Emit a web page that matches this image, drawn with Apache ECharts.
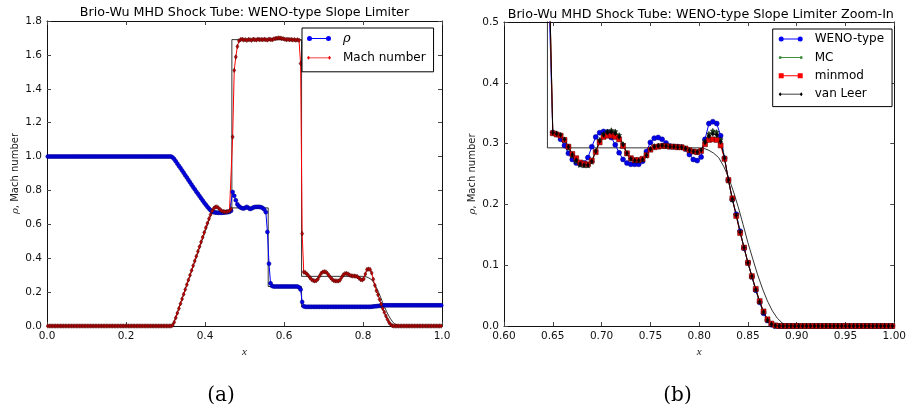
<!DOCTYPE html>
<html>
<head>
<meta charset="utf-8">
<script src="https://cdn.jsdelivr.net/npm/echarts@6/dist/echarts.min.js"></script>
<style>
  html, body { margin: 0; padding: 0; background: #fff; }
  #chart { width: 909px; height: 409px; }
</style>
</head>
<body>
<div id="chart"></div>
<script>
// Brio-Wu MHD shock tube, 250-cell uniform mesh on [0, 1]; one value per cell centre.
const CELLS = 250;

// Density with the WENO-type slope limiter
const density = [
  1.0,1.0,1.0,1.0,1.0,1.0,1.0,1.0,1.0,1.0,
  1.0,1.0,1.0,1.0,1.0,1.0,1.0,1.0,1.0,1.0,
  1.0,1.0,1.0,1.0,1.0,1.0,1.0,1.0,1.0,1.0,
  1.0,1.0,1.0,1.0,1.0,1.0,1.0,1.0,1.0,1.0,
  1.0,1.0,1.0,1.0,1.0,1.0,1.0,1.0,1.0,1.0,
  1.0,1.0,1.0,1.0,1.0,1.0,1.0,1.0,1.0,1.0,
  1.0,1.0,1.0,1.0,1.0,1.0,1.0,1.0,1.0,1.0,
  1.0,1.0,1.0,1.0,1.0,1.0,1.0,1.0,1.0,0.995,
  0.985,0.972,0.958,0.945,0.932,0.918,0.904,0.890,0.876,0.862,
  0.848,0.834,0.820,0.807,0.793,0.780,0.767,0.754,0.741,0.728,
  0.716,0.704,0.693,0.683,0.676,0.672,0.670,0.669,0.668,0.668,
  0.668,0.669,0.670,0.671,0.672,0.674,0.680,0.791,0.768,0.742,
  0.718,0.706,0.699,0.695,0.693,0.698,0.703,0.697,0.691,0.694,
  0.699,0.702,0.703,0.703,0.703,0.701,0.696,0.688,0.672,0.555,
  0.368,0.252,0.236,0.233,0.233,0.233,0.233,0.233,0.233,0.233,
  0.233,0.233,0.233,0.233,0.233,0.233,0.233,0.233,0.233,0.228,
  0.215,0.142,0.116,0.113,0.113,0.113,0.113,0.113,0.113,0.113,
  0.113,0.113,0.113,0.113,0.113,0.113,0.113,0.113,0.113,0.113,
  0.113,0.113,0.113,0.113,0.113,0.113,0.113,0.113,0.113,0.113,
  0.113,0.113,0.113,0.113,0.113,0.113,0.113,0.113,0.113,0.113,
  0.113,0.113,0.113,0.113,0.113,0.114,0.115,0.116,0.117,0.118,
  0.119,0.120,0.121,0.122,0.122,0.122,0.122,0.122,0.122,0.122,
  0.122,0.122,0.122,0.122,0.122,0.122,0.122,0.122,0.122,0.122,
  0.122,0.122,0.122,0.122,0.122,0.122,0.122,0.122,0.122,0.122,
  0.122,0.122,0.122,0.122,0.122,0.122,0.122,0.122,0.122,0.122
];

// Mach number with the WENO-type slope limiter
const machWeno = [
  0,0,0,0,0,0,0,0,0,0,
  0,0,0,0,0,0,0,0,0,0,
  0,0,0,0,0,0,0,0,0,0,
  0,0,0,0,0,0,0,0,0,0,
  0,0,0,0,0,0,0,0,0,0,
  0,0,0,0,0,0,0,0,0,0,
  0,0,0,0,0,0,0,0,0,0,
  0,0,0,0,0,0,0,0,0,0.005,
  0.022,0.048,0.076,0.104,0.132,0.160,0.188,0.216,0.244,0.272,
  0.300,0.328,0.356,0.384,0.412,0.440,0.468,0.496,0.524,0.552,
  0.580,0.607,0.633,0.657,0.679,0.694,0.702,0.703,0.697,0.688,
  0.680,0.676,0.674,0.674,0.676,0.680,0.690,1.116,1.509,1.588,
  1.650,1.683,1.690,1.692,1.688,1.690,1.686,1.691,1.689,1.687,
  1.692,1.690,1.688,1.693,1.690,1.691,1.689,1.692,1.690,1.688,
  1.693,1.691,1.689,1.694,1.696,1.698,1.700,1.699,1.697,1.695,
  1.693,1.690,1.692,1.689,1.691,1.688,1.690,1.687,1.689,1.686,
  1.549,0.545,0.318,0.315,0.307,0.297,0.284,0.274,0.268,0.266,
  0.268,0.277,0.295,0.311,0.318,0.320,0.319,0.310,0.298,0.285,
  0.274,0.268,0.266,0.266,0.266,0.271,0.287,0.302,0.309,0.310,
  0.307,0.301,0.296,0.295,0.295,0.294,0.291,0.282,0.274,0.272,
  0.278,0.307,0.333,0.336,0.333,0.313,0.276,0.240,0.208,0.184,
  0.156,0.128,0.104,0.081,0.059,0.039,0.021,0.009,0.002,0,
  0,0,0,0,0,0,0,0,0,0,
  0,0,0,0,0,0,0,0,0,0,
  0,0,0,0,0,0,0,0,0,0
];

// Zoom-in panel: cells from index ZOOM_FIRST (x = 0.642) to the right boundary
const ZOOM_FIRST = 160;

const machMC = [
  1.600,0.600,0.319,0.317,0.314,0.306,0.293,0.280,0.271,0.265,
  0.264,0.264,0.270,0.288,0.306,0.316,0.320,0.322,0.320,0.314,
  0.299,0.284,0.275,0.272,0.272,0.274,0.280,0.291,0.296,0.297,
  0.297,0.296,0.295,0.295,0.295,0.294,0.292,0.289,0.287,0.286,
  0.289,0.304,0.316,0.321,0.319,0.307,0.276,0.239,0.208,0.182,
  0.155,0.129,0.104,0.081,0.060,0.040,0.023,0.010,0.003,0,
  0,0,0,0,0,0,0,0,0,0,
  0,0,0,0,0,0,0,0,0,0,
  0,0,0,0,0,0,0,0,0,0
];

const machMinmod = [
  1.600,0.600,0.317,0.315,0.313,0.306,0.295,0.283,0.276,0.269,
  0.267,0.266,0.272,0.286,0.302,0.311,0.313,0.313,0.311,0.307,
  0.296,0.284,0.276,0.273,0.273,0.275,0.281,0.290,0.294,0.295,
  0.296,0.296,0.295,0.295,0.294,0.294,0.292,0.289,0.287,0.286,
  0.288,0.299,0.306,0.307,0.306,0.297,0.275,0.240,0.210,0.181,
  0.153,0.129,0.104,0.082,0.061,0.041,0.024,0.011,0.004,0.001,
  0,0,0,0,0,0,0,0,0,0,
  0,0,0,0,0,0,0,0,0,0,
  0,0,0,0,0,0,0,0,0,0
];

const machVanLeer = [
  1.600,0.600,0.318,0.316,0.314,0.307,0.295,0.282,0.273,0.267,
  0.265,0.265,0.271,0.287,0.304,0.314,0.318,0.319,0.317,0.311,
  0.298,0.284,0.275,0.272,0.272,0.274,0.281,0.291,0.295,0.296,
  0.297,0.296,0.295,0.295,0.294,0.294,0.292,0.289,0.287,0.286,
  0.289,0.302,0.312,0.316,0.314,0.303,0.276,0.240,0.209,0.182,
  0.154,0.129,0.104,0.082,0.060,0.040,0.023,0.010,0.003,0.001,
  0,0,0,0,0,0,0,0,0,0,
  0,0,0,0,0,0,0,0,0,0,
  0,0,0,0,0,0,0,0,0,0
];

// Reference (exact) solution, given as polyline nodes
const exactMachX = [0, 0.318, 0.418, 0.468, 0.468, 0.6445, 0.6445,
  0.800, 0.805, 0.810, 0.815, 0.820, 0.825, 0.830, 0.835, 0.840, 0.845,
  0.850, 0.855, 0.860, 0.865, 0.870, 0.875, 0.880, 0.885, 0.890, 0.895, 1.0];
const exactMach = [0, 0, 0.677, 0.677, 1.690, 1.690, 0.293,
  0.293, 0.292, 0.289, 0.284, 0.277, 0.263, 0.245, 0.222, 0.196, 0.167,
  0.137, 0.110, 0.084, 0.061, 0.041, 0.025, 0.013, 0.005, 0.001, 0, 0];
const exactRhoX = [0, 0.318, 0.350, 0.385, 0.418, 0.468, 0.468, 0.560, 0.560,
  0.6445, 0.6445, 0.800, 0.830, 0.860, 0.890, 1.0];
const exactRho = [1.0, 1.0, 0.890, 0.775, 0.675, 0.675, 0.697, 0.697, 0.233,
  0.233, 0.113, 0.113, 0.115, 0.119, 0.122, 0.122];

// ---------------------------------------------------------------------------
const cellCentre = i => (i + 0.5) / CELLS;
const onMesh = (values, first) => values.map((v, k) => [cellCentre(first + k), v]);
const nodes = (xs, ys) => xs.map((x, k) => [x, ys[k]]);

const SANS = 'DejaVu Sans';
const SERIF = 'DejaVu Serif';

// legend glyphs: a short line with a marker at each end
const ICON_CIRCLE = 'path://M2.5,2H21.5V3H2.5Z M0,2.5A2.5,2.5 0 1 1 5,2.5A2.5,2.5 0 1 1 0,2.5Z M19,2.5A2.5,2.5 0 1 1 24,2.5A2.5,2.5 0 1 1 19,2.5Z';
const ICON_DIAMOND = 'path://M1.5,2.1H22.5V2.9H1.5Z M0,2.5L1.5,0.5L3,2.5L1.5,4.5Z M21,2.5L22.5,0.5L24,2.5L22.5,4.5Z';
const ICON_DOT = 'path://M1.5,2H22.5V3H1.5Z M0,2.5A1.5,1.5 0 1 1 3,2.5A1.5,1.5 0 1 1 0,2.5Z M21,2.5A1.5,1.5 0 1 1 24,2.5A1.5,1.5 0 1 1 21,2.5Z';
const ICON_SQUARE = 'path://M2.5,2H21.5V3H2.5Z M0,0H5V5H0Z M19,0H24V5H19Z';
const STAR = 'path://M0,-10L2.9,-4L9.5,-3.1L4.7,1.5L5.9,8.1L0,5L-5.9,8.1L-4.7,1.5L-9.5,-3.1L-2.9,-4Z';

function xAxisPair(grid, min, max, interval, digits) {
  const common = {
    gridIndex: grid, type: 'value', min, max, interval,
    splitLine: { show: false },
    axisLine: { show: true, onZero: false, lineStyle: { color: '#111', width: 1 } },
    axisTick: { show: true, inside: true, length: 4, lineStyle: { color: '#444' } }
  };
  return [
    Object.assign({}, common, {
      position: 'bottom',
      axisLabel: { formatter: v => v.toFixed(digits), fontFamily: SANS, fontSize: 10.5, color: '#111', margin: 4.5 },
      name: 'x', nameLocation: 'middle', nameGap: 18.5,
      nameTextStyle: { fontFamily: 'Liberation Serif', fontStyle: 'italic', fontSize: 11, color: '#222' }
    }),
    Object.assign({}, common, { position: 'top', axisLabel: { show: false } })
  ];
}

function yAxisPair(grid, min, max, interval, digits) {
  const common = {
    gridIndex: grid, type: 'value', min, max, interval,
    splitLine: { show: false },
    axisLine: { show: true, onZero: false, lineStyle: { color: '#111', width: 1 } },
    axisTick: { show: true, inside: true, length: 4, lineStyle: { color: '#444' } }
  };
  return [
    Object.assign({}, common, {
      position: 'left',
      axisLabel: { formatter: v => v.toFixed(digits), fontFamily: SANS, fontSize: 10.5, color: '#111', margin: 5 },
      name: '{r|ρ}, Mach number', nameLocation: 'middle', nameGap: 27,
      nameTextStyle: {
        fontFamily: SANS, fontSize: 10, color: '#222',
        rich: { r: { fontFamily: SERIF, fontStyle: 'italic', fontSize: 10, color: '#222' } }
      }
    }),
    Object.assign({}, common, { position: 'right', axisLabel: { show: false } })
  ];
}

function exactLine(name, data, xi, yi) {
  return {
    name, type: 'line', xAxisIndex: xi, yAxisIndex: yi, data,
    symbol: 'none', lineStyle: { color: '#000', width: 1, opacity: 0.8 }, z: 2
  };
}

function markedLine(name, data, xi, yi, color, symbol, size, fill, edge) {
  return {
    name, type: 'line', xAxisIndex: xi, yAxisIndex: yi, data,
    symbol, symbolSize: size, showSymbol: true, showAllSymbol: true,
    lineStyle: { color, width: 1 },
    itemStyle: { color: fill, borderColor: edge, borderWidth: 0.5 },
    z: 3
  };
}

const legendBase = {
  orient: 'vertical', itemWidth: 24, itemHeight: 5, selectedMode: false,
  backgroundColor: '#fff', borderColor: '#000', borderWidth: 1, borderRadius: 0,
  textStyle: { fontFamily: SANS, fontSize: 12, color: '#000', lineHeight: 14, padding: [0, 0, 0, 7],
    rich: { r: { fontFamily: SERIF, fontStyle: 'italic', fontSize: 13, color: '#000' } } }
};

const titleStyle = { fontFamily: SANS, fontSize: 12.7, fontWeight: 'normal', color: '#000' };
const captionStyle = { fontFamily: SERIF, fontSize: 20, fontWeight: 'normal', color: '#000' };

const option = {
  animation: false,
  backgroundColor: '#fff',
  title: [
    { text: 'Brio-Wu MHD Shock Tube: WENO-type Slope Limiter', left: 244.5, top: 6, textAlign: 'center', padding: 0, textStyle: titleStyle },
    { text: 'Brio-Wu MHD Shock Tube: WENO-type Slope Limiter Zoom-In', left: 700.8, top: 8, textAlign: 'center', padding: 0, textStyle: titleStyle },
    { text: '(a)', left: 221, top: 386, textAlign: 'center', padding: 0, textStyle: captionStyle },
    { text: '(b)', left: 677.5, top: 386, textAlign: 'center', padding: 0, textStyle: captionStyle }
  ],
  legend: [
    Object.assign({}, legendBase, {
      left: 302, top: 28, padding: [3.5, 8, 7, 5], itemGap: 5.3,
      formatter: n => (n === 'ρ' ? '{r|ρ}' : n),
      data: [
        { name: 'ρ', icon: ICON_CIRCLE, itemStyle: { color: '#0000ff', borderWidth: 0 } },
        { name: 'Mach number', icon: ICON_DIAMOND, itemStyle: { color: '#ee0000', borderWidth: 0 } }
      ]
    }),
    Object.assign({}, legendBase, {
      left: 772.7, top: 29, padding: [3, 8, 5.4, 6], itemGap: 4.4,
      data: [
        { name: 'WENO-type', icon: ICON_CIRCLE, itemStyle: { color: '#0000ff', borderWidth: 0 } },
        { name: 'MC', icon: ICON_DOT, itemStyle: { color: '#3f8f3f', borderWidth: 0 } },
        { name: 'minmod', icon: ICON_SQUARE, itemStyle: { color: '#ff0000', borderWidth: 0 } },
        { name: 'van Leer', icon: ICON_DIAMOND, itemStyle: { color: '#000', borderWidth: 0 } }
      ]
    })
  ],
  grid: [
    { left: 47, top: 21, width: 395, height: 305, show: false },
    { left: 504, top: 22, width: 393, height: 304, show: false }
  ],
  xAxis: [].concat(xAxisPair(0, 0, 1, 0.2, 1), xAxisPair(1, 0.6, 1.0, 0.05, 2)),
  yAxis: [].concat(yAxisPair(0, 0, 1.8, 0.2, 1), yAxisPair(1, 0, 0.5, 0.1, 1)),
  series: [
    // full domain
    exactLine('exact ρ', nodes(exactRhoX, exactRho), 0, 0),
    exactLine('exact Mach', nodes(exactMachX, exactMach), 0, 0),
    markedLine('ρ', onMesh(density, 0), 0, 0, '#0000ff', 'circle', 4, '#0000ee', '#000080'),
    markedLine('Mach number', onMesh(machWeno, 0), 0, 0, '#ff0000', 'diamond', [3, 4.5], '#c00000', '#400000'),
    // zoom-in on the slow shock and fast rarefaction
    exactLine('exact Mach (zoom)', nodes(exactMachX, exactMach), 2, 2),
    markedLine('WENO-type', onMesh(machWeno.slice(ZOOM_FIRST), ZOOM_FIRST), 2, 2, '#0000ff', 'circle', 5, '#0000ee', '#000080'),
    markedLine('MC', onMesh(machMC, ZOOM_FIRST), 2, 2, '#55b055', STAR, 5, '#1f4f1f', '#000'),
    markedLine('minmod', onMesh(machMinmod, ZOOM_FIRST), 2, 2, '#ff0000', 'rect', 5, '#ee0000', '#500000'),
    markedLine('van Leer', onMesh(machVanLeer, ZOOM_FIRST), 2, 2, '#000000', 'diamond', [3, 5], '#000', '#000')
  ]
};

const chart = echarts.init(document.getElementById('chart'), null, { renderer: 'canvas' });
chart.setOption(option);
</script>
</body>
</html>
